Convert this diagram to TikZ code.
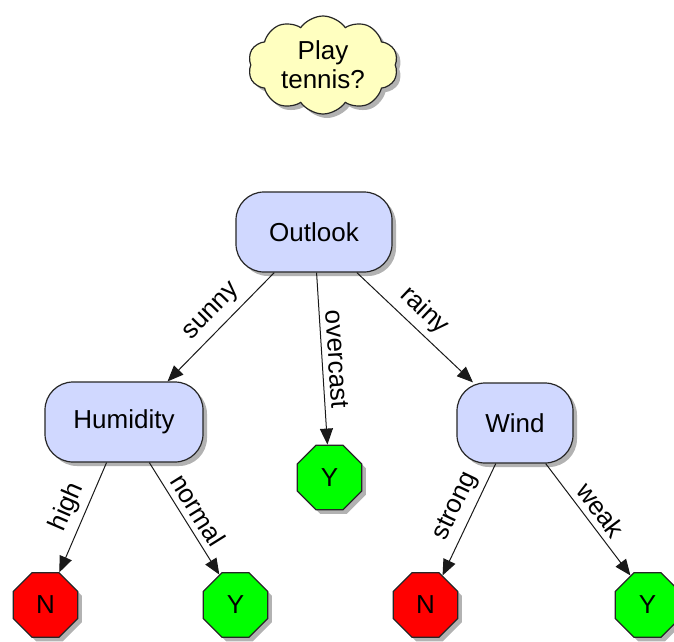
\documentclass[tikz,border=0pt]{standalone}
\usepackage{fontspec}
\setmainfont{Liberation Sans}
\usetikzlibrary{shapes.geometric,shapes.symbols,shadows,arrows.meta}
\definecolor{boxblue}{RGB}{208,216,255}
\definecolor{cloudy}{RGB}{255,255,192}
\definecolor{leafgreen}{RGB}{0,255,0}
\definecolor{leafred}{RGB}{255,0,0}
\begin{document}
\begin{tikzpicture}[x=1pt,y=1pt,
  every node/.style={font=\fontsize{26}{29}\selectfont},
  dshadow/.style={drop shadow={shadow xshift=4pt,shadow yshift=-4pt,fill=black,opacity=0.3}},
  attr/.style={draw=black!85, line width=1.2pt, fill=boxblue, rounded corners=28pt, minimum height=80pt, inner sep=0pt, dshadow},
  leaf/.style={regular polygon, regular polygon sides=8, minimum size=70pt, inner sep=0pt, draw=black!85, line width=1.2pt, dshadow},
  conn/.style={draw=black!90, line width=1pt, -{Triangle[length=16pt,width=13pt]}},
  lbl/.style={sloped, above, inner sep=6pt}
]
\useasboundingbox (0,0) rectangle (674,-641);
\node[cloud, cloud puffs=10, cloud puff arc=110, aspect=1.5, draw=black!85, line width=1.2pt, fill=cloudy,
      minimum width=150pt, minimum height=98pt, inner sep=0pt, align=center, dshadow] (q) at (323,-65) {Play\\tennis?};
\node[attr, minimum width=156pt] (outlook) at (314,-232) {Outlook};
\node[attr, minimum width=158pt] (hum) at (124,-422) {Humidity};
\node[attr, minimum width=116pt] (wind) at (515,-423) {Wind};
\node[leaf, fill=leafgreen] (ov) at (329.5,-477.5) {Y};
\node[leaf, fill=leafred] (n1) at (45.5,-605) {N};
\node[leaf, fill=leafgreen] (y2) at (235.5,-605) {Y};
\node[leaf, fill=leafred] (n3) at (425.5,-605) {N};
\node[leaf, fill=leafgreen] (y4) at (647.5,-605) {Y};
\draw[conn] (outlook) -- node[lbl, pos=0.47] {sunny} (hum.43);
\draw[conn] (outlook) -- node[lbl, pos=0.51] {overcast} (ov);
\draw[conn] (outlook) -- node[lbl, pos=0.47] {rainy} (wind.136);
\draw[conn] (hum) -- node[lbl, pos=0.47] {high} (n1.67);
\draw[conn] (hum) -- node[lbl, pos=0.5] {normal} (y2.118);
\draw[conn] (wind) -- node[lbl, pos=0.45] {strong} (n3.60);
\draw[conn] (wind) -- node[lbl, pos=0.5] {weak} (y4.120);
\end{tikzpicture}
\end{document}
